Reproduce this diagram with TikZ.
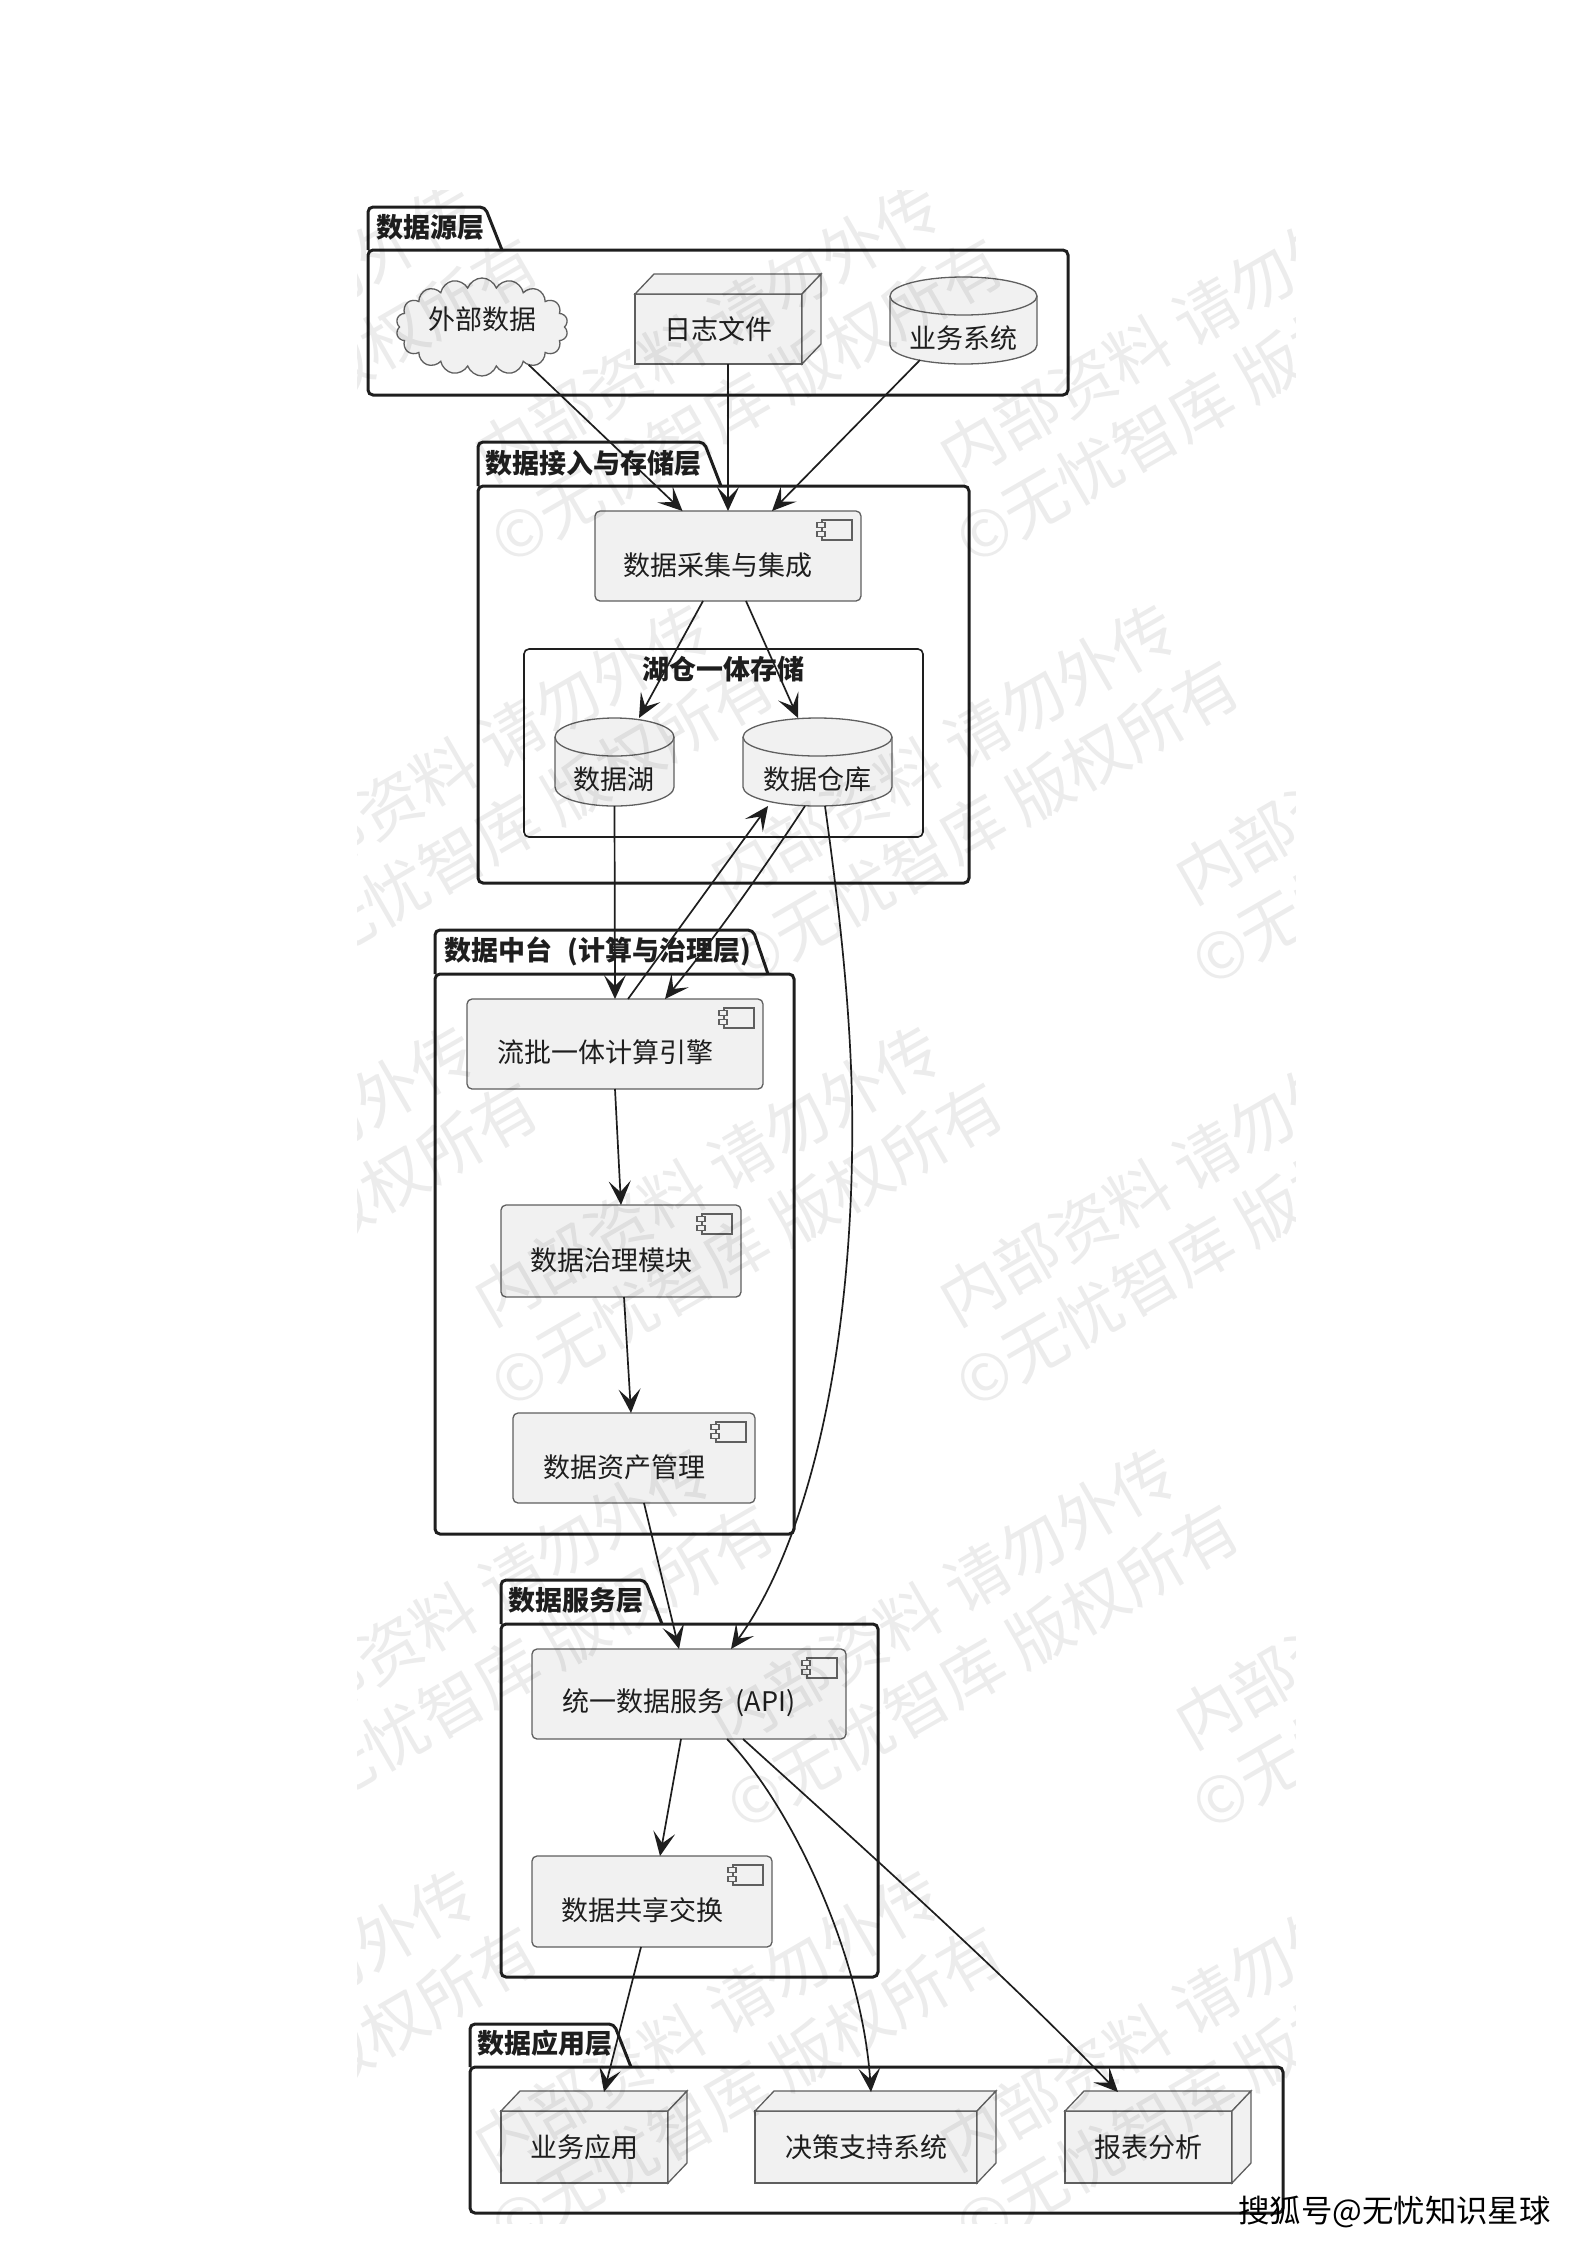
\documentclass[tikz,border=0pt]{standalone}
\usepackage{fontspec}
\setmainfont{Noto Sans CJK SC}
\usetikzlibrary{arrows.meta,shapes.symbols}
\definecolor{boxfill}{HTML}{F1F1F1}
\definecolor{boxedge}{HTML}{5F5F5F}
\definecolor{inkline}{HTML}{1E1E1E}
\tikzset{
    lbl/.style={inner sep=0pt,text=inkline,font=\fontsize{13.5}{16}\selectfont},
    pkgtitle/.style={lbl,anchor=west,font=\fontsize{13.5}{16}\selectfont\bfseries},
    shapeline/.style={draw=boxedge,fill=boxfill,line width=0.65pt},
    compbox/.style={shapeline,rectangle,rounded corners=2.5pt,inner sep=0pt,outer sep=0pt},
    nodebox/.style={shapeline,rectangle,inner sep=0pt,outer sep=0pt,text=inkline,font=\fontsize{13.5}{16}\selectfont},
    dbbox/.style={rectangle,inner sep=0pt,outer sep=0pt},
    tdshift/.style={shift={(9.5pt,10pt)}},
    pkgline/.style={draw=inkline,line width=1.5pt,rounded corners=2.5pt},
    flow/.style={draw=inkline,line width=0.85pt,-{Stealth[length=12pt,width=11pt,inset=5.5pt]}},
    wmark/.style={inner sep=0pt,rotate=30,align=center,text=black,text opacity=0.075,font=\fontsize{32}{40}\selectfont},
    pics/compicon/.style={code={
        \draw[shapeline,line width=0.55pt] (-39,9) rectangle (-9,29);
        \draw[shapeline,line width=0.55pt] (-44,11.5) rectangle (-36,16.5);
        \draw[shapeline,line width=0.55pt] (-44,20.5) rectangle (-36,25.5);
    }}
}
\begin{document}
\begin{tikzpicture}[x=0.5pt,y=-0.5pt]
        \useasboundingbox (0,0) rectangle (1587,2245);
        
        % packages
        \draw[pkgline] (368,250) rectangle (1068,395);
        \draw[pkgline] (368,250) |- (485,207) -- (502,250);
        \draw[pkgline] (478,486) rectangle (969,883);
        \draw[pkgline] (478,486) |- (704,442) -- (721,486);
        \draw[pkgline] (435,974) rectangle (794,1534);
        \draw[pkgline] (435,974) |- (753,930) -- (768,974);
        \draw[pkgline] (501,1624) rectangle (878,1977);
        \draw[pkgline] (501,1624) |- (645,1580) -- (662,1624);
        \draw[pkgline] (470,2067) rectangle (1283,2213);
        \draw[pkgline] (470,2067) |- (614,2024) -- (631,2067);
        \draw[draw=inkline,line width=0.8pt,rounded corners=2.5pt] (524,649) rectangle (923,837);
        
        % package titles
        \node[pkgtitle] (srctitle) at (376,227) {数据源层};
        \node[pkgtitle] (acctitle) at (485,463) {数据接入与存储层};
        \node[pkgtitle] (midtitle) at (444,951) {数据中台\hspace{.55em}(计算与治理层)};
        \node[pkgtitle] (svctitle) at (508,1600) {数据服务层};
        \node[pkgtitle] (apptitle) at (477,2043) {数据应用层};
        \node[lbl,font=\fontsize{13.5}{16}\selectfont\bfseries] (lhtitle) at (723,669) {湖仓一体存储};
        
        % cloud and 3d boxes
        \node[shapeline,cloud,cloud puffs=18,cloud puff arc=140,cloud ignores aspect,inner sep=0pt,outer sep=0pt,minimum width=86pt,minimum height=49pt] (waibu) at (482,327) {};
        \node[lbl] (waibutxt) at (482,319) {外部数据};
        \node[nodebox,minimum width=83.5pt,minimum height=35pt] (rizhi) at (718.5,329) {日志文件};
        \node[nodebox,minimum width=83.5pt,minimum height=36pt] (yingyong) at (584.5,2147) {业务应用};
        \node[nodebox,minimum width=111pt,minimum height=36pt] (juece) at (866,2147) {决策支持系统};
        \node[nodebox,minimum width=83.5pt,minimum height=36pt] (baobiao) at (1148.5,2147) {报表分析};
        \foreach \nm in {rizhi,yingyong,juece,baobiao} {
            \draw[shapeline] (\nm.north west) -- ([tdshift]\nm.north west) -- ([tdshift]\nm.north east) -- (\nm.north east) -- cycle;
            \draw[shapeline] (\nm.north east) -- ([tdshift]\nm.north east) -- ([tdshift]\nm.south east) -- (\nm.south east) -- cycle;
        }
        
        % databases
        \node[dbbox,minimum width=73.5pt,minimum height=43.5pt] (yewu) at (963.5,320.5) {};
        \node[dbbox,minimum width=59.5pt,minimum height=44pt] (hu) at (614.5,762) {};
        \node[dbbox,minimum width=74.5pt,minimum height=44pt] (cang) at (817.5,762) {};
        \foreach \nm/\rx in {yewu/36.75pt,hu/29.75pt,cang/37.25pt} {
            \draw[shapeline] ([yshift=-9.5pt]\nm.north west) arc[start angle=180,end angle=0,x radius=\rx,y radius=9.5pt] -- ([yshift=9.5pt]\nm.south east) arc[start angle=0,end angle=-180,x radius=\rx,y radius=9.5pt] -- cycle;
            \draw[shapeline,fill=none] ([yshift=-9.5pt]\nm.north west) arc[start angle=180,end angle=360,x radius=\rx,y radius=9.5pt];
        }
        \node[lbl] (yewutxt) at (963,338) {业务系统};
        \node[lbl] (hutxt) at (614,779) {数据湖};
        \node[lbl] (cangtxt) at (817,779) {数据仓库};
        
        % components
        \node[compbox,minimum width=133pt,minimum height=45pt] (caiji) at (728,556) {};
        \node[lbl] (caijitxt) at (718,565) {数据采集与集成};
        \node[compbox,minimum width=148pt,minimum height=45pt] (liupi) at (615,1044) {};
        \node[lbl] (liupitxt) at (605,1052) {流批一体计算引擎};
        \node[compbox,minimum width=120pt,minimum height=46pt] (zhili) at (621,1251) {};
        \node[lbl] (zhilitxt) at (611,1260) {数据治理模块};
        \node[compbox,minimum width=121pt,minimum height=45pt] (zichan) at (634,1458) {};
        \node[lbl] (zichantxt) at (624,1467) {数据资产管理};
        \node[compbox,minimum width=157pt,minimum height=45pt] (api) at (689,1694) {};
        \node[lbl] (apitxt) at (679,1703) {统一数据服务\hspace{.4em}(API)};
        \node[compbox,minimum width=120pt,minimum height=45.5pt] (gongxiang) at (652,1901.5) {};
        \node[lbl] (gongxiangtxt) at (642,1910) {数据共享交换};
        \foreach \nm in {caiji,liupi,zhili,zichan,api,gongxiang} \pic at (\nm.north east) {compicon};
        
        % arrows
        \draw[flow] (waibu.-39) -- ([xshift=-22.75pt]caiji.north);
        \draw[flow] ([xshift=4.75pt]rizhi.south) -- (caiji.north);
        \draw[flow] ([xshift=-21.75pt,yshift=2pt]yewu.south) -- ([xshift=22pt]caiji.north);
        \draw[flow] ([xshift=-12.5pt]caiji.south) -- ([xshift=12.25pt]hu.north);
        \draw[flow] ([xshift=9pt]caiji.south) -- ([xshift=-9.75pt]cang.north);
        \draw[flow] (hu.south) -- (liupi.north);
        \draw[flow] ([xshift=6.5pt]liupi.north) -- ([xshift=-24.75pt]cang.south);
        \draw[flow] ([xshift=-6.25pt]cang.south) .. controls (763,870) and (717,935) .. ([xshift=25pt]liupi.north);
        \draw[flow] ([xshift=3.75pt]cang.south) .. controls (838,900) and (850,1000) .. (852,1100) .. controls (856,1340) and (810,1540) .. ([xshift=21pt]api.north);
        \draw[flow] (liupi.south) -- (zhili.north);
        \draw[flow] ([xshift=1.5pt]zhili.south) -- ([xshift=-1.5pt]zichan.north);
        \draw[flow] ([xshift=5pt]zichan.south) -- ([xshift=-5pt]api.north);
        \draw[flow] ([xshift=-4pt]api.south) -- ([xshift=4pt]gongxiang.north);
        \draw[flow] ([xshift=-5.5pt]gongxiang.south) -- ([xshift=9.75pt,yshift=9.5pt]yingyong.north);
        \draw[flow] ([xshift=19pt]api.south) .. controls (795,1810) and (862,1960) .. ([xshift=2.5pt,yshift=9.5pt]juece.north);
        \draw[flow] ([xshift=27pt]api.south) .. controls (860,1845) and (1000,1970) .. ([xshift=-15.25pt,yshift=9.5pt]baobiao.north);
        
        % watermark
        \begin{scope}
            \clip (357,190) rectangle (1295,2223);
            \foreach \rw in {0,...,4} \foreach \cl in {0,...,3}
                \node[wmark] (wm\rw\cl) at ({262+\cl*465+mod(\rw,2)*236},{366+\rw*422}) {内部资料 请勿外传\\©无忧智库 版权所有};
        \end{scope}
        
        % corner mark
        \node[lbl,text=black,anchor=west,font=\fontsize{15.7}{18}\selectfont] (sohu) at (1238,2212) {搜狐号@无忧知识星球};
    \end{tikzpicture}
\end{document}
